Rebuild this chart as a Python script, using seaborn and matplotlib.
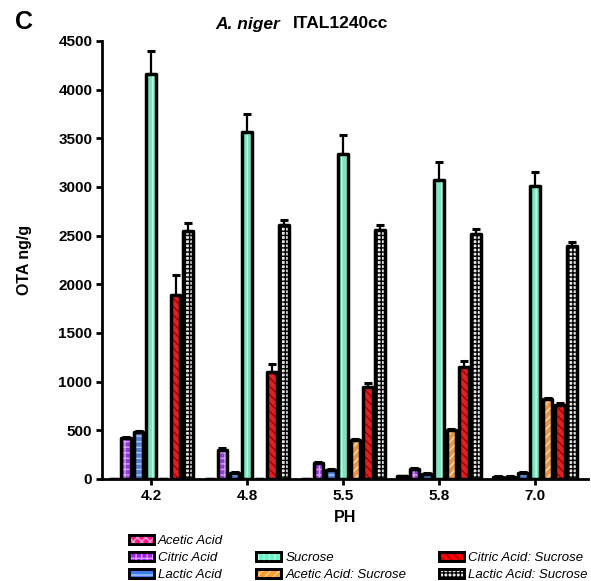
import matplotlib
matplotlib.use("Agg")
import matplotlib.pyplot as plt
from matplotlib.patches import Rectangle, Patch
from matplotlib.font_manager import FontProperties
import seaborn as sns
import pandas as pd
import numpy as np

# ---------------- data ----------------
ph = ["4.2", "4.8", "5.5", "5.8", "7.0"]
series = ["Acetic Acid", "Citric Acid", "Lactic Acid", "Sucrose",
          "Acetic Acid: Sucrose", "Citric Acid: Sucrose", "Lactic Acid: Sucrose"]

acetic = [0, 0, 0, 30, 25]
citric = [420, 300, 165, 100, 25]
lactic = [480, 65, 90, 50, 60]
sucrose = [4160, 3560, 3340, 3075, 3015]
acetic_suc = [0, 0, 400, 500, 820]
citric_suc = [1890, 1100, 950, 1150, 760]
lactic_suc = [2550, 2610, 2560, 2520, 2390]

acetic_err = [0, 0, 0, 5, 5]
citric_err = [15, 15, 10, 10, 5]
lactic_err = [15, 10, 10, 10, 10]
sucrose_err = [235, 185, 195, 180, 140]
acetic_suc_err = [0, 0, 10, 10, 15]
citric_suc_err = [210, 80, 40, 60, 20]
lactic_suc_err = [80, 50, 50, 50, 50]

values = [acetic, citric, lactic, sucrose, acetic_suc, citric_suc, lactic_suc]
errors = [acetic_err, citric_err, lactic_err, sucrose_err,
          acetic_suc_err, citric_suc_err, lactic_suc_err]

# styles
fill_colors = ["#FF1A8C", "#A020F0", "#3B7BEA", "#6CF5C6", "#FF9A2E", "#FF0000", "#E8E8E8"]
hatch_colors = ["#FF9ACD", "#D9A0FF", "#A8CBFF", "#B8FFE4", "#FFD9A0", "#A00000", "#000000"]
hatches = ["xxxx", "+++", "---", "|||", "////", "\\\\\\\\", "++++"]

df = pd.DataFrame({
    "PH": np.repeat([ph], len(series), axis=0).ravel(),
    "series": np.repeat(series, len(ph)),
    "value": np.concatenate(values),
})

plt.rcParams["font.family"] = ["Liberation Sans", "DejaVu Sans"]
plt.rcParams["hatch.linewidth"] = 1.0

fig = plt.figure(figsize=(5.91, 5.81), dpi=100)
ax = fig.add_axes([102 / 591, 1 - 479 / 581, (588 - 102) / 591, (479 - 41) / 581])

sns.barplot(data=df, x="PH", y="value", hue="series", hue_order=series, order=ph,
            palette=fill_colors, errorbar=None, width=0.9, gap=0.22,
            linewidth=0, legend=False, ax=ax, zorder=3)

bar_containers = list(ax.containers)
for i, cont in enumerate(bar_containers):
    xs, hs = [], []
    for p in cont.patches:
        x0, y0 = p.get_xy()
        w, h = p.get_width(), p.get_height()
        ax.add_patch(Rectangle((x0, y0), w, h, facecolor="none",
                               edgecolor=hatch_colors[i], linewidth=0,
                               hatch=hatches[i], zorder=3.1))
        ax.add_patch(Rectangle((x0, y0), w, h, facecolor="none",
                               edgecolor="black", linewidth=2.5, zorder=3.2,
                               joinstyle="round"))
        xs.append(x0 + w / 2)
        hs.append(h)
    err = errors[i]
    ax.errorbar(xs, hs, yerr=[np.zeros(len(err)), err], fmt="none",
                ecolor="black", elinewidth=1.6, capsize=3, capthick=2.2, zorder=2)

ax.set_ylim(0, 4500)
ax.set_xlim(-0.51, 4.55)
ax.set_yticks(np.arange(0, 4501, 500))
sns.despine(ax=ax)
for s in ["left", "bottom"]:
    ax.spines[s].set_linewidth(2.0)
ax.tick_params(axis="both", width=2.0, length=4, labelsize=11, pad=3)
for lab in ax.get_xticklabels() + ax.get_yticklabels():
    lab.set_fontweight("bold")

ax.set_xlabel("PH", fontsize=11.5, fontweight="bold")
ax.xaxis.set_label_coords(0.5, -(517 - 479) / 438)
ax.xaxis.label.set_va("center")
ax.set_ylabel("OTA ng/g", fontsize=11.5, fontweight="bold")
ax.yaxis.set_label_coords(-(102 - 24) / 486, 0.5)
ax.yaxis.label.set_va("center")

fig.text(24 / 591, 1 - 22 / 581, "C", fontsize=18, fontweight="bold", ha="center", va="center")
fig.text(280 / 591, 1 - 24 / 581, "A. niger", fontsize=12.5, fontweight="bold",
         fontstyle="italic", ha="right", va="center")
fig.text(293 / 591, 1 - 24 / 581, "ITAL1240cc", fontsize=12.5, fontweight="bold",
         ha="left", va="center")

# legend
def handle(i):
    return (Patch(facecolor=fill_colors[i], edgecolor="black", linewidth=2.0),
            Patch(facecolor="none", edgecolor=hatch_colors[i], linewidth=0, hatch=hatches[i]),
            Patch(facecolor="none", edgecolor="black", linewidth=2.0))

blank = Patch(visible=False)
handles = [handle(0), handle(1), handle(2), blank, handle(3), handle(4), blank, handle(5), handle(6)]
labels = [series[0], series[1], series[2], "", series[3], series[4], "", series[5], series[6]]
fig.legend(handles, labels, ncol=3, loc="upper left",
           bbox_to_anchor=(129 / 591, 1 - 535 / 581), frameon=False, borderpad=0,
           borderaxespad=0,
           prop=FontProperties(family="Liberation Sans", style="italic", size=9.5),
           handlelength=1.9, handleheight=0.65, handletextpad=0.3,
           labelspacing=0.38, columnspacing=2.5)

fig.savefig("out.png", dpi=100)
